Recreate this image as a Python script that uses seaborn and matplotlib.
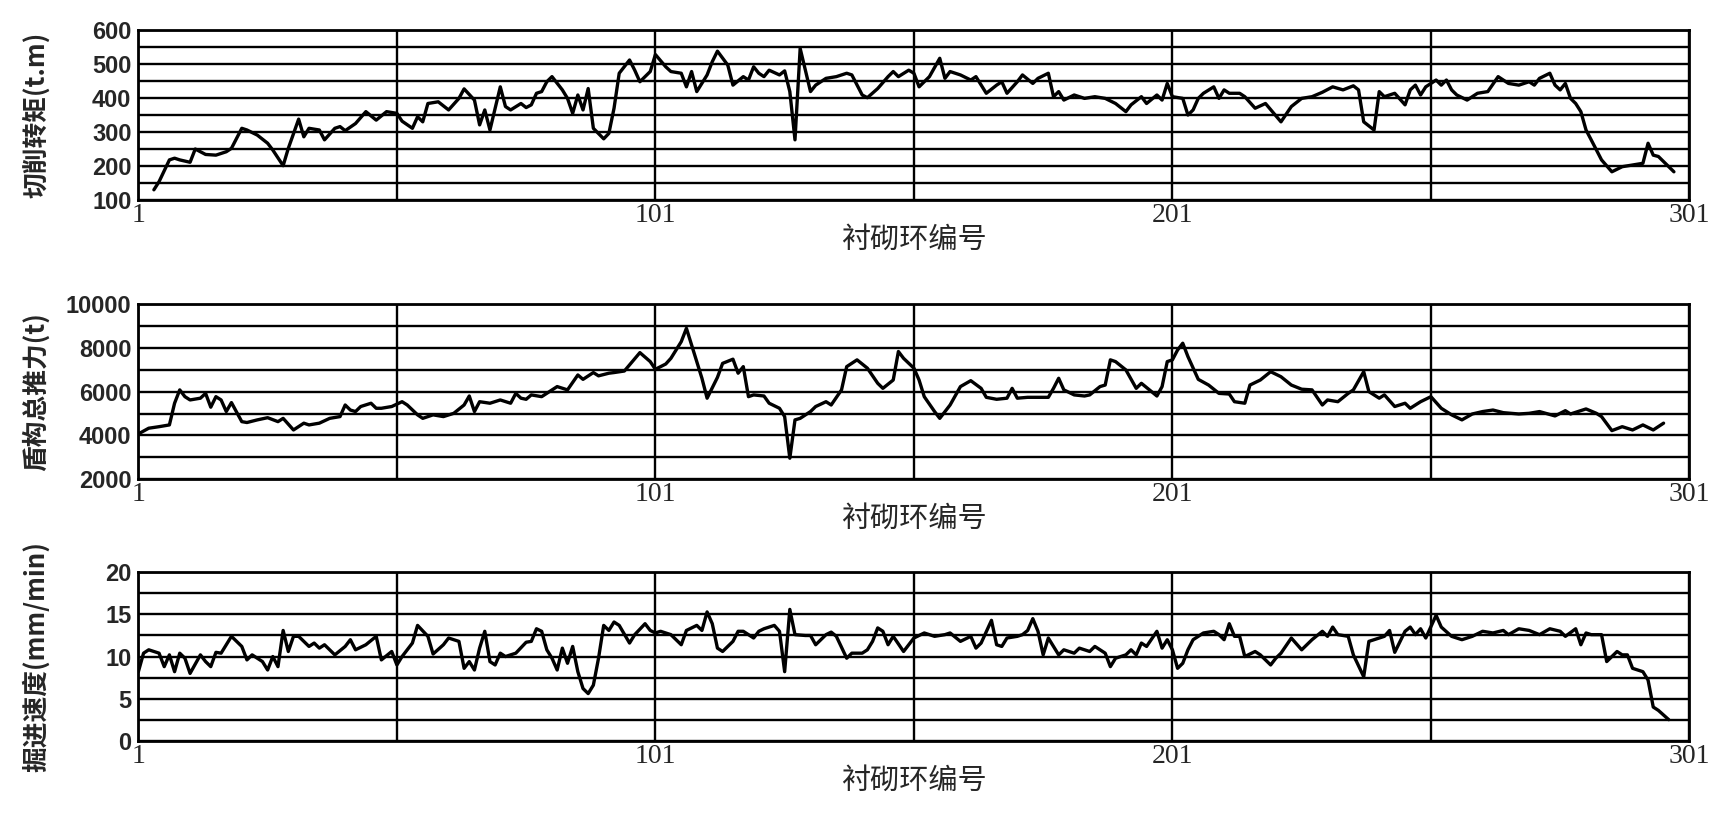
import matplotlib
matplotlib.use("Agg")
import matplotlib.pyplot as plt
import seaborn as sns
from matplotlib.ticker import FixedLocator

# ring numbers (x) and readings for each panel
torque_rings = [4, 5, 7, 8, 9, 11, 12, 14, 16, 18, 19, 21, 22, 24, 26, 27, 29, 30, 32, 33,
                34, 36, 37, 39, 40, 41, 43, 45, 47, 49, 51, 52, 54, 55, 56, 57, 59, 61, 63, 64,
                66, 67, 68, 69, 71, 72, 73, 75, 76, 77, 78, 79, 80, 81, 83, 84, 85, 86, 87, 88,
                89, 91, 92, 93, 94, 96, 97, 98, 100, 101, 103, 104, 106, 107, 108, 109, 111, 112, 113, 115,
                116, 118, 119, 120, 121, 122, 123, 125, 126, 127, 128, 129, 130, 131, 132, 134, 136, 138, 139, 141,
                142, 144, 146, 147, 148, 150, 151, 152, 154, 156, 157, 158, 160, 162, 163, 165, 167, 168, 169, 171,
                172, 174, 175, 177, 178, 179, 180, 182, 184, 186, 188, 190, 192, 193, 195, 196, 198, 199, 200, 201,
                203, 204, 205, 206, 207, 209, 210, 211, 212, 214, 215, 217, 219, 222, 224, 226, 228, 230, 232, 234,
                236, 237, 238, 240, 241, 242, 244, 246, 247, 248, 249, 250, 252, 253, 254, 255, 256, 258, 260, 262,
                264, 266, 268, 270, 271, 272, 274, 275, 276, 277, 278, 279, 280, 281, 282, 284, 286, 288, 290, 292,
                293, 294, 295, 298]
torque = [130, 154, 218, 223, 218, 211, 250, 234, 232, 242, 252, 311, 306, 291, 267, 247, 201, 252, 338, 286,
          311, 306, 277, 311, 316, 304, 325, 360, 335, 360, 355, 332, 311, 345, 330, 384, 389, 365, 399, 427,
          394, 321, 365, 306, 433, 375, 365, 384, 372, 380, 414, 419, 448, 463, 424, 399, 355, 409, 365, 428,
          311, 280, 296, 370, 473, 512, 482, 448, 478, 528, 492, 478, 473, 433, 478, 419, 468, 507, 538, 497,
          438, 463, 453, 492, 473, 463, 482, 468, 480, 419, 277, 546, 482, 419, 438, 458, 463, 473, 468, 409,
          401, 428, 463, 478, 463, 482, 473, 433, 463, 517, 458, 478, 468, 453, 463, 414, 438, 448, 414, 448,
          468, 443, 458, 473, 404, 419, 394, 409, 399, 404, 399, 384, 360, 380, 404, 384, 409, 394, 443, 404,
          399, 350, 365, 399, 414, 433, 399, 424, 414, 414, 404, 370, 384, 330, 375, 399, 404, 417, 433, 424,
          436, 424, 330, 306, 419, 404, 414, 380, 424, 438, 409, 433, 453, 438, 453, 424, 409, 394, 414, 419,
          463, 443, 438, 448, 438, 458, 473, 438, 424, 443, 399, 384, 360, 306, 277, 218, 183, 198, 203, 208,
          267, 232, 228, 183]

thrust_rings = [1, 3, 5, 7, 8, 9, 10, 11, 13, 14, 15, 16, 17, 18, 19, 21, 22, 24, 26, 28,
                29, 31, 33, 34, 36, 38, 40, 41, 42, 43, 44, 46, 47, 48, 50, 52, 53, 55, 56, 58,
                60, 62, 64, 65, 66, 67, 69, 71, 73, 74, 75, 76, 77, 79, 81, 82, 84, 86, 87, 89,
                90, 92, 93, 95, 98, 100, 101, 103, 104, 106, 107, 108, 110, 111, 113, 114, 116, 117, 118, 119,
                120, 122, 123, 125, 126, 127, 128, 129, 131, 132, 134, 135, 137, 138, 140, 142, 144, 145, 147, 148,
                149, 151, 152, 153, 155, 156, 158, 160, 162, 164, 165, 167, 169, 170, 171, 173, 175, 177, 178, 179,
                180, 182, 184, 185, 187, 188, 189, 190, 192, 194, 195, 198, 199, 200, 201, 202, 203, 204, 206, 208,
                210, 212, 213, 215, 216, 218, 220, 222, 224, 226, 228, 230, 231, 233, 235, 236, 238, 239, 241, 242,
                244, 246, 247, 249, 251, 253, 255, 257, 259, 261, 263, 265, 268, 270, 272, 275, 277, 278, 281, 283,
                284, 286, 288, 290, 292, 294, 296]
thrust = [4070, 4330, 4400, 4480, 5470, 6080, 5770, 5620, 5700, 5920, 5290, 5770, 5620, 5090, 5500, 4630, 4590, 4710, 4810, 4630,
          4780, 4250, 4560, 4480, 4560, 4780, 4860, 5390, 5160, 5090, 5320, 5470, 5240, 5240, 5320, 5540, 5390, 4940, 4780, 4940,
          4860, 5010, 5390, 5800, 5090, 5540, 5470, 5620, 5470, 5920, 5700, 5650, 5850, 5770, 6080, 6230, 6080, 6760, 6560, 6870,
          6720, 6840, 6870, 6940, 7780, 7370, 7020, 7260, 7520, 8280, 8890, 8130, 6610, 5700, 6650, 7290, 7480, 6840, 7140, 5770,
          5850, 5800, 5470, 5240, 4860, 2960, 4710, 4780, 5090, 5320, 5540, 5390, 6080, 7140, 7450, 7070, 6380, 6150, 6530, 7830,
          7520, 7070, 6530, 5770, 5090, 4780, 5390, 6230, 6500, 6150, 5740, 5650, 5700, 6150, 5700, 5740, 5740, 5740, 6150, 6610,
          6080, 5850, 5800, 5850, 6230, 6300, 7450, 7370, 6990, 6150, 6380, 5800, 6230, 7370, 7450, 7900, 8210, 7600, 6560, 6300,
          5920, 5890, 5540, 5470, 6300, 6530, 6910, 6680, 6300, 6110, 6080, 5390, 5620, 5540, 5920, 6080, 6910, 6000, 5700, 5850,
          5320, 5470, 5240, 5540, 5770, 5240, 4940, 4710, 4980, 5090, 5160, 5040, 4980, 5010, 5090, 4890, 5130, 4980, 5210, 5010,
          4860, 4220, 4400, 4250, 4480, 4250, 4560]

speed_rings = [1, 2, 3, 5, 6, 7, 8, 9, 10, 11, 13, 14, 15, 16, 17, 19, 20, 21, 22, 23,
               25, 26, 27, 28, 29, 30, 31, 32, 34, 35, 36, 37, 39, 41, 42, 43, 45, 47, 48, 50,
               51, 52, 54, 55, 57, 58, 60, 61, 62, 63, 64, 65, 66, 67, 68, 69, 70, 71, 72, 74,
               76, 77, 78, 79, 80, 81, 82, 83, 84, 85, 86, 87, 88, 89, 90, 91, 92, 93, 94, 96,
               97, 99, 100, 101, 102, 104, 105, 106, 107, 109, 110, 111, 112, 113, 114, 116, 117, 118, 120, 121,
               122, 124, 125, 126, 127, 128, 130, 131, 132, 134, 135, 136, 138, 139, 141, 142, 143, 144, 145, 146,
               147, 149, 151, 153, 155, 157, 158, 160, 162, 163, 164, 166, 167, 168, 169, 171, 172, 173, 174, 175,
               176, 177, 178, 179, 180, 182, 183, 185, 186, 188, 189, 190, 192, 193, 194, 195, 196, 198, 199, 200,
               201, 202, 203, 204, 205, 207, 209, 210, 211, 212, 213, 214, 215, 217, 218, 220, 221, 222, 224, 226,
               228, 230, 231, 232, 233, 235, 236, 238, 239, 241, 242, 243, 244, 246, 247, 248, 249, 250, 252, 253,
               255, 257, 259, 261, 263, 265, 266, 268, 270, 272, 274, 276, 277, 279, 280, 281, 282, 284, 285, 287,
               288, 289, 290, 292, 293, 294, 295, 297]
speed = [8.2, 10.4, 10.8, 10.4, 8.8, 10.2, 8.2, 10.4, 9.8, 8.0, 10.2, 9.4, 8.8, 10.5, 10.4, 12.4, 11.8, 11.2, 9.6, 10.2,
         9.4, 8.4, 10.0, 8.8, 13.1, 10.6, 12.4, 12.4, 11.2, 11.6, 11.0, 11.4, 10.2, 11.2, 12.0, 10.8, 11.4, 12.4, 9.6, 10.6,
         9.0, 10.0, 11.6, 13.7, 12.4, 10.3, 11.4, 12.2, 12.0, 11.8, 8.6, 9.4, 8.4, 11.0, 13.0, 9.4, 9.0, 10.4, 10.0, 10.4,
         11.7, 11.8, 13.3, 13.0, 10.8, 9.8, 8.4, 11.0, 9.2, 11.2, 8.2, 6.2, 5.6, 6.6, 9.8, 13.7, 13.1, 14.1, 13.7, 11.6,
         12.6, 13.9, 13.1, 12.8, 13.0, 12.6, 12.0, 11.4, 13.1, 13.7, 13.1, 15.3, 13.9, 11.0, 10.6, 11.8, 13.0, 13.0, 12.2, 13.0,
         13.3, 13.7, 13.0, 8.2, 15.6, 12.6, 12.5, 12.5, 11.4, 12.6, 12.9, 12.4, 9.8, 10.4, 10.4, 10.8, 11.8, 13.4, 13.0, 11.4,
         12.4, 10.6, 12.2, 12.8, 12.4, 12.6, 12.8, 11.8, 12.4, 11.0, 11.6, 14.3, 11.4, 11.2, 12.2, 12.4, 12.6, 13.1, 14.5, 13.0,
         10.2, 12.2, 11.2, 10.2, 10.8, 10.4, 11.0, 10.6, 11.2, 10.4, 8.8, 9.8, 10.2, 10.8, 10.2, 11.6, 11.2, 13.0, 11.0, 12.0,
         10.8, 8.6, 9.2, 10.8, 12.0, 12.8, 13.0, 12.6, 12.0, 13.9, 12.4, 12.4, 10.0, 10.6, 10.2, 9.0, 9.8, 10.4, 12.2, 10.8,
         12.0, 13.0, 12.4, 13.5, 12.6, 12.4, 10.2, 7.6, 11.8, 12.2, 12.4, 13.1, 10.5, 13.0, 13.5, 12.6, 13.3, 12.2, 14.9, 13.5,
         12.4, 12.0, 12.4, 13.0, 12.8, 13.1, 12.6, 13.3, 13.1, 12.6, 13.3, 13.0, 12.4, 13.3, 11.4, 12.8, 12.6, 12.6, 9.4, 10.6,
         10.2, 10.2, 8.6, 8.2, 7.2, 4.0, 3.6, 2.5]

x_ticks = [1, 101, 201, 301]
x_grid = [51, 151, 251]
torque_ticks = [100, 200, 300, 400, 500, 600]
thrust_ticks = [2000, 4000, 6000, 8000, 10000]
speed_ticks = [0, 5, 10, 15, 20]

x_title = "衬砌环编号"
y_titles = ["切削转矩(t.m)", "盾构总推力(t)", "掘进速度(mm/min)"]

sns.set_style("white")
plt.rcParams['font.family'] = ['Noto Sans CJK SC', 'DejaVu Sans']

fig = plt.figure(figsize=(17.19, 8.13), dpi=100)

panels = [
    (torque_rings, torque, torque_ticks, 50, [0.0805, 0.754, 0.9023, 0.209]),
    (thrust_rings, thrust, thrust_ticks, 1000, [0.0805, 0.4105, 0.9023, 0.2156]),
    (speed_rings, speed, speed_ticks, 2.5, [0.0805, 0.0889, 0.9023, 0.2071]),
]

for (xs, ys, yt, ystep, box), ytitle in zip(panels, y_titles):
    ax = fig.add_axes(box)
    sns.lineplot(x=xs, y=ys, ax=ax, color="black", linewidth=2.4,
                 sort=False, estimator=None)
    ax.set_xlim(1, 301)
    ax.set_ylim(yt[0], yt[-1])

    ax.set_xticks(x_ticks, labels=[str(t) for t in x_ticks],
                  fontfamily="Liberation Serif", fontsize=20)
    ax.xaxis.set_minor_locator(FixedLocator(x_grid))
    ax.set_yticks(yt, labels=[str(t) for t in yt],
                  fontfamily="Liberation Sans", fontsize=17, fontweight="bold")
    minor_y = []
    v = yt[0]
    while v < yt[-1]:
        minor_y.append(v)
        v += ystep
    ax.yaxis.set_minor_locator(FixedLocator(minor_y))

    ax.grid(True, which="both", color="black", linewidth=1.7)
    ax.set_axisbelow(True)
    ax.tick_params(which="both", length=0)
    ax.tick_params(axis="x", pad=2)
    ax.tick_params(axis="y", pad=5)
    for s in ax.spines.values():
        s.set_color("black")
        s.set_linewidth(2)

    ax.set_xlabel(x_title, fontsize=21, labelpad=-2)
    ax.set_ylabel(ytitle, fontsize=18.5, fontweight="bold")
    ax.yaxis.set_label_coords(-0.057, 0.5)

fig.savefig("out.png", dpi=100)
